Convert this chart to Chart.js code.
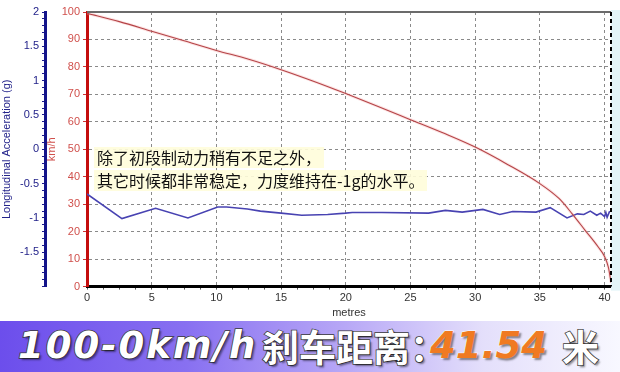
<!DOCTYPE html>
<html lang="zh">
  <head>
    <meta charset="UTF-8" />
    <title>100-0km/h 刹车距离</title>
    <script src="https://cdn.jsdelivr.net/npm/chart.js"></script>
    <style>
      body { margin: 0; background: #fff; width: 620px; height: 372px; overflow: hidden; }
      #wrap { position: relative; width: 620px; height: 320px; }
      .note {
        position: absolute; left: 94px; padding: 0 3px;
        font: 16px "Noto Sans CJK SC", sans-serif; line-height: 21px; color: #111;
        background: rgba(255, 253, 218, 0.9); white-space: nowrap;
      }
      #banner {
        position: absolute; left: 0; top: 321px; width: 620px; height: 51px;
        background: linear-gradient(90deg, #6c4eec 0%, #8870f1 30%, #b6a6f6 55%, #e4dffb 78%, #f8f8ff 100%);
        white-space: nowrap; overflow: hidden;
      }
      #banner span {
        position: absolute; top: 2px; font-weight: bold; font-size: 37px; line-height: 46px;
        color: #fff; -webkit-text-stroke: 1.5px #3a3a3a; paint-order: stroke fill;
        text-shadow: 2px 2px 2px rgba(0, 0, 0, 0.45);
      }
      .lat { font-family: "DejaVu Sans", sans-serif; font-style: italic; letter-spacing: 2px; }
      .cjk { font-family: "Noto Sans CJK SC", sans-serif; }
      .num { color: #f07a22 !important; -webkit-text-stroke: 1px #fff !important; letter-spacing: 0; }
    </style>
  </head>

  <body>
    <div id="wrap">
      <canvas id="brake-chart" width="620" height="320"></canvas>
      <div class="note" style="top:147px">除了初段制动力稍有不足之外，</div>
      <div class="note" style="top:170px">其它时候都非常稳定，力度维持在-1g的水平。</div>
    </div>
    <div id="banner">
      <span class="lat" style="left:18px">100-0km/h</span>
      <span class="cjk" style="left:262px">刹车距离：</span>
      <span class="lat num" style="left:430px">41.54</span>
      <span class="cjk" style="left:562px">米</span>
    </div>

    <script>
      // tốc độ (km/h) theo quãng đường (m)
      const speedDist = [0, 2.5, 5, 7.5, 10, 12.5, 15, 17.5, 20, 22.5, 25, 27.5, 30, 32.5, 35, 36.5, 37.5, 38.5, 39.5, 40, 40.3, 40.5];
      const speedKmh = [99.5, 96.5, 93, 89.5, 86, 82.8, 79, 74.8, 70.3, 65.6, 60.8, 56, 50.8, 44.5, 37.5, 32, 26.5, 20.5, 14.5, 11, 7, 1.5];

      // gia tốc dọc (g)
      const accDist = [0, 2.7, 5.3, 7.8, 10.1, 10.8, 12.4, 13.4, 15, 16.6, 18.6, 20, 20.5, 22.8, 26.4, 27.7, 29, 30.6, 31.9, 32.9, 34.7, 35.8, 37.1, 37.9, 38.4, 38.9, 39.4, 39.7, 40, 40.1, 40.2, 40.4];
      const accG = [-0.65, -1.01, -0.86, -1.0, -0.84, -0.84, -0.87, -0.9, -0.93, -0.96, -0.95, -0.93, -0.92, -0.92, -0.93, -0.89, -0.915, -0.876, -0.95, -0.905, -0.915, -0.85, -1.0, -0.94, -0.95, -0.9, -0.96, -0.93, -0.98, -0.92, -0.99, -0.9];

      const xMax = 40.5;

      const pts = (xs, ys) => xs.map((x, i) => ({ x: x, y: ys[i] }));

      const frame = {
        id: "frame",
        beforeDatasetsDraw(chart) {
          const { ctx, chartArea: a } = chart;
          ctx.save();
          ctx.fillStyle = "#e3f5f8";
          ctx.fillRect(a.right, a.top - 2, 620 - a.right, a.bottom - a.top + 6);
          ctx.restore();
        },
        afterDraw(chart) {
          const { ctx, chartArea: a } = chart;
          ctx.save();
          ctx.strokeStyle = "#6b6b6b";
          ctx.lineWidth = 2;
          ctx.beginPath();
          ctx.moveTo(a.left, a.top);
          ctx.lineTo(a.right, a.top);
          ctx.stroke();
          ctx.strokeStyle = "#000";
          ctx.lineWidth = 2;
          ctx.setLineDash([4, 3]);
          ctx.beginPath();
          ctx.moveTo(a.right, a.top);
          ctx.lineTo(a.right, a.bottom);
          ctx.stroke();
          ctx.restore();
        },
      };

      const chart = new Chart(document.getElementById("brake-chart"), {
        type: "line",
        data: {
          datasets: [
            {
              data: pts(speedDist, speedKmh),
              yAxisID: "y",
              borderColor: "rgba(245, 160, 160, 0.3)",
              borderWidth: 3,
              pointRadius: 0,
              cubicInterpolationMode: "monotone",
            },
            {
              data: pts(speedDist, speedKmh),
              yAxisID: "y",
              borderColor: "#981d22",
              borderWidth: 1.1,
              pointRadius: 0,
              cubicInterpolationMode: "monotone",
            },
            {
              data: pts(accDist, accG),
              yAxisID: "yg",
              borderColor: "#4843b2",
              borderWidth: 1.6,
              pointRadius: 0,
              tension: 0,
            },
          ],
        },
        options: {
          responsive: false,
          animation: false,
          events: [],
          layout: { padding: { top: 12, right: 9, left: 0, bottom: 0 } },
          plugins: { legend: { display: false }, tooltip: { enabled: false } },
          scales: {
            x: {
              type: "linear",
              min: 0,
              max: xMax,
              ticks: {
                stepSize: 1.25,
                includeBounds: false,
                autoSkip: false,
                maxRotation: 0,
                padding: 2,
                color: "#333",
                font: { family: "Liberation Sans", size: 11 },
                callback: (v) => (Math.abs(v % 5) < 1e-6 ? v : ""),
              },
              grid: {
                color: (c) => (c.tick && Math.abs(c.tick.value % 5) < 1e-6 ? "#8a8a8a" : "transparent"),
                tickColor: "#555",
                tickLength: 3,
              },
              border: { color: "#000", width: 3, dash: [3, 3] },
              title: {
                display: true,
                text: "metres",
                color: "#333",
                padding: { top: 0, bottom: 0 },
                font: { family: "Liberation Sans", size: 11 },
              },
            },
            y: {
              position: "left",
              weight: 0,
              min: 0,
              max: 100,
              ticks: {
                stepSize: 10,
                padding: 3,
                color: "#d0504c",
                font: { family: "Liberation Sans", size: 11 },
              },
              grid: { color: "#8a8a8a", tickColor: "#c33", tickLength: 4 },
              border: { color: "#c40d0d", width: 3, dash: [3, 3] },
              title: {
                display: true,
                text: "km/h",
                color: "#d0504c",
                padding: 0,
                font: { family: "Liberation Sans", size: 11 },
              },
              afterFit: (s) => { s.width = 42; },
            },
            yg: {
              position: "left",
              weight: 1,
              min: -2,
              max: 2,
              ticks: {
                stepSize: 0.1,
                autoSkip: false,
                padding: 3,
                color: "#23238a",
                font: { family: "Liberation Sans", size: 11 },
                callback: (v) => {
                  const r = Math.round(v * 10) / 10;
                  return Math.abs(r * 2 - Math.round(r * 2)) < 1e-6 && r > -2 ? r : "";
                },
              },
              grid: { drawOnChartArea: false, tickColor: "#1b1b8c", tickLength: 3 },
              border: { color: "#14148a", width: 3 },
              title: {
                display: true,
                text: "Longitudinal Acceleration (g)",
                color: "#23238a",
                padding: 0,
                font: { family: "Liberation Sans", size: 11 },
              },
              afterFit: (s) => { s.width = 45; },
            },
          },
        },
        plugins: [frame],
      });
    </script>
  </body>
</html>
